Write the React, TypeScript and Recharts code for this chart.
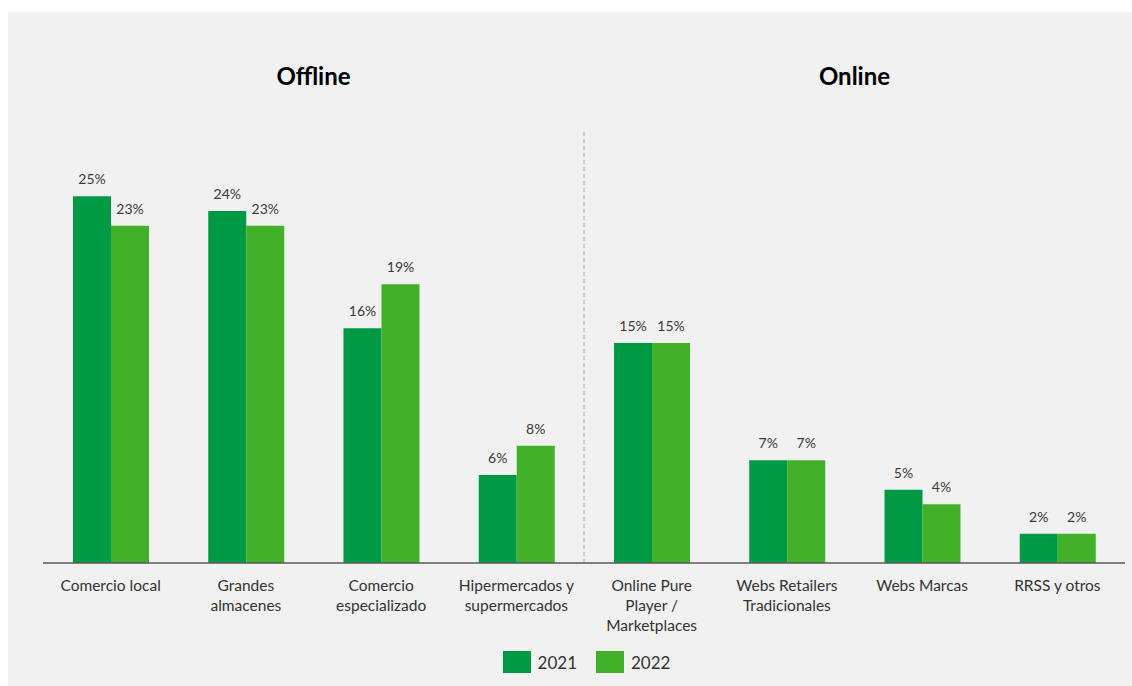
import { Bar, BarChart, LabelList, Legend, ReferenceArea, ReferenceLine, XAxis, YAxis } from "recharts"

const categories = [
    "Comercio local",
    "Grandes\nalmacenes",
    "Comercio\nespecializado",
    "Hipermercados y\nsupermercados",
    "Online Pure\nPlayer /\nMarketplaces",
    "Webs Retailers\nTradicionales",
    "Webs Marcas",
    "RRSS y otros",
]
const values2021 = [25, 24, 16, 6, 15, 7, 5, 2]
const values2022 = [23, 23, 19, 8, 15, 7, 4, 2]
const seriesNames = ["2021", "2022"]
const groupTitles = ["Offline", "Online"]
const colors = ["#009A44", "#43B02A"]

const chartData = categories.map((name, i) => ({
    name,
    slot: i,
    y2021: values2021[i],
    y2022: values2022[i],
}))

// band edges of the category axis, on a 0..n number axis
const boundaryTicks = [...categories.map((_, i) => i), categories.length]
const gridDomain = [0, categories.length]
const yDomain = [0, 30]
const split = categories.length / 2
const axisColor = "#595959"
const gridTickLine = { stroke: axisColor }
const gridAxisLine = { stroke: axisColor, strokeWidth: 1.5 }

const CategoryTick = ({ x, y, payload }: { x?: number, y?: number, payload?: { value: string } }) => {
    const lines = String(payload?.value ?? "").split("\n")
    return (
        <text x={x} y={y} textAnchor="middle" fill="#333" fontSize={15.5}>
            {lines.map((line, i) => (
                <tspan key={i} x={x} y={(y ?? 0) + 15 + i * 20}>{line}</tspan>
            ))}
        </text>
    )
}
const categoryTick = <CategoryTick />

const LegendContent = () => (
    <div style={{ display: "flex", justifyContent: "center", alignItems: "center", height: 30, paddingLeft: 5 }}>
        {seriesNames.map((s, i) => (
            <div key={s} style={{ display: "flex", alignItems: "center", marginRight: i === 0 ? 19 : 0 }}>
                <span style={{ width: 28, height: 22, background: colors[i], display: "inline-block", marginRight: 7 }} />
                <span style={{ fontSize: 17, color: "#333" }}>{s}</span>
            </div>
        ))}
    </div>
)
const legendContent = <LegendContent />

const pct = (v: number) => `${v}%`
const titleStyle = { position: "top" as const, offset: 38, fill: "#000", fontSize: 24, fontWeight: 700 }

export default function App() {
    return (
        <div style={{ position: "absolute", left: 8, top: 12, width: 1124, height: 674, background: "#f1f1f1", fontFamily: "Lato, 'Open Sans', sans-serif" }}>
            <BarChart
                width={1124}
                height={674}
                data={chartData}
                margin={{ top: 111, right: 7, bottom: 9, left: 35 }}
                barGap={0}
                barSize={38}
            >
                <XAxis
                    xAxisId="a_edges"
                    dataKey="slot"
                    type="number"
                    domain={gridDomain}
                    allowDataOverflow
                    ticks={boundaryTicks}
                    tick={false}
                    tickSize={4}
                    tickLine={gridTickLine}
                    axisLine={gridAxisLine}
                    height={5}
                />
                <XAxis
                    xAxisId="b_names"
                    dataKey="name"
                    axisLine={false}
                    tickLine={false}
                    interval={0}
                    height={79}
                    tick={categoryTick}
                />
                <YAxis hide domain={yDomain} />

                <ReferenceArea
                    xAxisId="a_edges"
                    x1={0}
                    x2={split}
                    fill="none"
                    strokeOpacity={0}
                    ifOverflow="visible"
                    label={{ value: groupTitles[0], ...titleStyle }}
                />
                <ReferenceArea
                    xAxisId="a_edges"
                    x1={split}
                    x2={categories.length}
                    fill="none"
                    strokeOpacity={0}
                    ifOverflow="visible"
                    label={{ value: groupTitles[1], ...titleStyle }}
                />
                <ReferenceLine
                    xAxisId="a_edges"
                    segment={[{ x: split, y: 0 }, { x: split, y: 29.5 }]}
                    stroke="#a6a6a6"
                    strokeDasharray="4 3"
                />

                <Legend verticalAlign="bottom" height={30} content={legendContent} />

                <Bar xAxisId="b_names" dataKey="y2021" name={seriesNames[0]} fill={colors[0]} isAnimationActive={false}>
                    <LabelList dataKey="y2021" position="top" offset={12} fill="#3a3a3a" fontSize={14} formatter={pct} />
                </Bar>
                <Bar xAxisId="b_names" dataKey="y2022" name={seriesNames[1]} fill={colors[1]} isAnimationActive={false}>
                    <LabelList dataKey="y2022" position="top" offset={12} fill="#3a3a3a" fontSize={14} formatter={pct} />
                </Bar>
            </BarChart>
        </div>
    )
}
